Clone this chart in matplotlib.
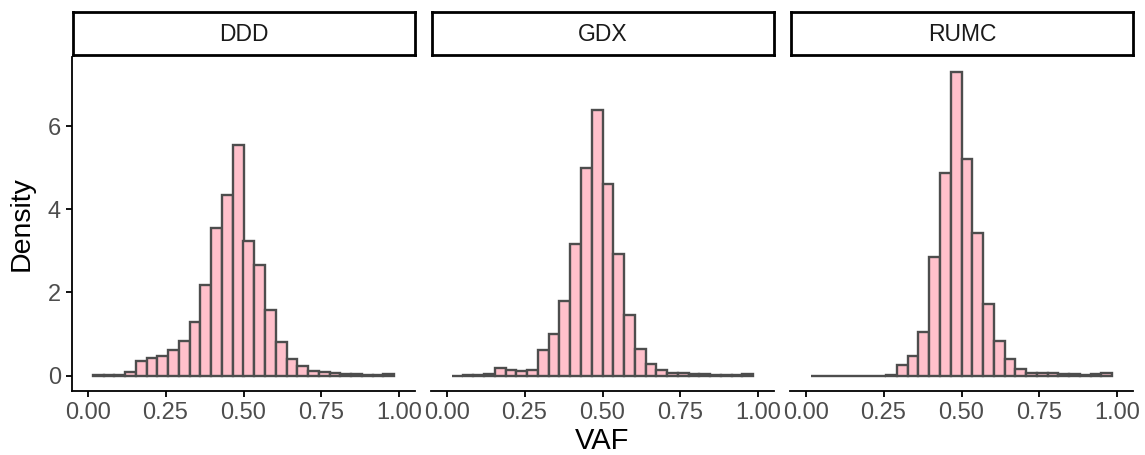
import numpy as np
import matplotlib
matplotlib.use("Agg")
import matplotlib.pyplot as plt

plt.rcParams['font.family'] = ['Liberation Sans', 'DejaVu Sans']

# histogram densities per cohort, 28 bins of width 1/29 starting at 0.5/29
cohorts = ["DDD", "GDX", "RUMC"]
bin_width = 1 / 29
first_edge = 0.5 / 29
ddd = [0.005, 0.01, 0.02, 0.09, 0.36, 0.42, 0.46, 0.61, 0.82, 1.30,
       2.18, 3.55, 4.35, 5.54, 3.24, 2.66, 1.58, 0.80, 0.40, 0.22,
       0.11, 0.08, 0.06, 0.03, 0.03, 0.02, 0.02, 0.04]
gdx = [0.0, 0.01, 0.02, 0.04, 0.17, 0.13, 0.10, 0.14, 0.61, 1.00,
       1.80, 3.17, 4.99, 6.40, 4.61, 2.92, 1.46, 0.65, 0.28, 0.13,
       0.07, 0.05, 0.03, 0.03, 0.02, 0.02, 0.02, 0.03]
rumc = [0.0, 0.0, 0.0, 0.0, 0.0, 0.0, 0.0, 0.01, 0.26, 0.46,
        1.04, 2.85, 4.88, 7.30, 5.20, 3.44, 1.73, 0.82, 0.40, 0.16,
        0.06, 0.07, 0.05, 0.03, 0.04, 0.02, 0.04, 0.07]
densities = [ddd, gdx, rumc]

xticks = [0, 0.25, 0.5, 0.75, 1.0]
xticklabels = ["0.00", "0.25", "0.50", "0.75", "1.00"]
yticks = [0, 2, 4, 6]

W, H = 1145, 455
fig = plt.figure(figsize=(W / 100, H / 100), dpi=100)

panel_left = [72, 431, 790]
panel_w = 343
panel_top, panel_bot = 57, 390.7
strip_top, strip_bot = 12, 55

ymax = max(max(d) for d in densities)

for i, name in enumerate(cohorts):
    ax = fig.add_axes([panel_left[i] / W, (H - panel_bot) / H,
                       panel_w / W, (panel_bot - panel_top) / H])
    left_edges = first_edge + bin_width * np.arange(len(densities[i]))
    ax.bar(left_edges, densities[i], width=bin_width, align='edge',
           color='#FFC0CB', edgecolor='#4D4D4D', linewidth=1.7)
    ax.set_xlim(-0.05, 1.05)
    ax.set_ylim(-0.05 * ymax, 1.05 * ymax)
    ax.set_xticks(xticks)
    ax.set_xticklabels(xticklabels)
    ax.set_yticks(yticks)
    for s in ['top', 'right']:
        ax.spines[s].set_visible(False)
    ax.spines['bottom'].set_linewidth(1.3)
    ax.spines['left'].set_linewidth(1.3)
    ax.tick_params(axis='both', length=4.5, width=1.3, color='black',
                   labelcolor='#4D4D4D', labelsize=17, pad=3.5)
    if i > 0:
        ax.spines['left'].set_visible(False)
        ax.tick_params(axis='y', left=False, labelleft=False)

    # facet strip
    sx = fig.add_axes([(panel_left[i] + 1) / W, (H - strip_bot) / H,
                       (panel_w - 1) / W, (strip_bot - strip_top) / H])
    sx.set_xticks([])
    sx.set_yticks([])
    for s in sx.spines.values():
        s.set_linewidth(2.0)
        s.set_color('black')
    sx.text(0.5, 0.47, name, ha='center', va='center', fontsize=16.5,
            color='#1A1A1A', transform=sx.transAxes)

fig.text(22 / W, 1 - 224 / H, "Density", rotation=90, ha='center',
         va='center', fontsize=20.5, color='black')
fig.text(602 / W, 1 - 449 / H, "VAF", ha='center', va='baseline',
         fontsize=21, color='black')

fig.savefig("out.png", dpi=100)
